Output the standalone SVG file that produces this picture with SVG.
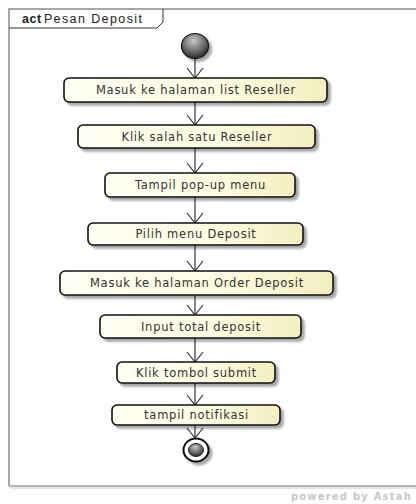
<svg xmlns="http://www.w3.org/2000/svg" width="416" height="504" viewBox="0 0 416 504">
<defs>
<linearGradient id="boxfill" x1="0" y1="0" x2="1" y2="0">
<stop offset="0" stop-color="#fffff4"/>
<stop offset="0.6" stop-color="#fdfbe0"/>
<stop offset="1" stop-color="#f3eec0"/>
</linearGradient>
<radialGradient id="ball" cx="0.45" cy="0.3" r="0.7">
<stop offset="0" stop-color="#c8c8c8"/>
<stop offset="0.6" stop-color="#6a6a6a"/>
<stop offset="1" stop-color="#2a2a2a"/>
</radialGradient>
<filter id="sh" x="-10%" y="-20%" width="130%" height="160%">
<feGaussianBlur in="SourceAlpha" stdDeviation="1.2"/>
<feOffset dx="2.5" dy="2.5" result="b"/>
<feComponentTransfer><feFuncA type="linear" slope="0.35"/></feComponentTransfer>
<feMerge><feMergeNode/><feMergeNode in="SourceGraphic"/></feMerge>
</filter>
</defs>
<style>
.box{fill:url(#boxfill);stroke:#111;stroke-width:1.6;filter:url(#sh)}
.lbl{font-family:"DejaVu Sans",sans-serif;font-size:11.5px;letter-spacing:0.75px;fill:#333;text-anchor:middle}
.edge{stroke:#333;stroke-width:1.2;fill:none}
.head{stroke:#333;stroke-width:1.2;fill:none}
</style>
<rect x="0" y="0" width="416" height="504" fill="#ffffff"/>
<g id="frame">
<path d="M9 486 V9 H420" fill="none" stroke="#8a8a8a" stroke-width="1.5"/>
<path d="M9 486 H420" fill="none" stroke="#9a9a9a" stroke-width="1.5"/>
<path d="M10 488 H420" fill="none" stroke="#e4e4e4" stroke-width="2"/>
<path d="M9 28 H157 L163 22 V9" fill="none" stroke="#333" stroke-width="1"/>
<text x="22" y="23" font-family="'Liberation Sans',Arial,sans-serif" font-size="12.5" letter-spacing="1.4" fill="#222"><tspan font-weight="bold" letter-spacing="0.6">act</tspan><tspan dx="2">Pesan Deposit</tspan></text>
</g>
<g id="connectors">
<path class="edge" d="M195 59 V78"/>
<path class="head" d="M187 68 L195 78 L203 68"/>
<path class="edge" d="M195 102 V125"/>
<path class="head" d="M187 115 L195 125 L203 115"/>
<path class="edge" d="M195 148 V173"/>
<path class="head" d="M187 163 L195 173 L203 163"/>
<path class="edge" d="M195 197 V223"/>
<path class="head" d="M187 213 L195 223 L203 213"/>
<path class="edge" d="M195 245 V271"/>
<path class="head" d="M187 261 L195 271 L203 261"/>
<path class="edge" d="M195 295 V315"/>
<path class="head" d="M187 305 L195 315 L203 305"/>
<path class="edge" d="M195 338 V362"/>
<path class="head" d="M187 352 L195 362 L203 352"/>
<path class="edge" d="M195 383 V405"/>
<path class="head" d="M187 395 L195 405 L203 395"/>
<path class="edge" d="M195 425 V437"/>
<path class="head" d="M187 428 L195 438 L203 428"/>
</g>
<g id="start">
<ellipse cx="195" cy="46" rx="13.5" ry="12.5" fill="url(#ball)" stroke="#111" stroke-width="1.2" filter="url(#sh)"/>
</g>
<g id="n1"><rect class="box" x="64" y="78" width="263" height="24" rx="5"/><text class="lbl" x="196" y="94">Masuk ke halaman list Reseller</text></g>
<g id="n2"><rect class="box" x="78" y="125" width="237" height="23" rx="5"/><text class="lbl" x="197" y="140.5">Klik salah satu Reseller</text></g>
<g id="n3"><rect class="box" x="105" y="173" width="190" height="24" rx="5"/><text class="lbl" x="200.5" y="189">Tampil pop-up menu</text></g>
<g id="n4"><rect class="box" x="88" y="223" width="215" height="22" rx="5"/><text class="lbl" x="196" y="238">Pilih menu Deposit</text></g>
<g id="n5"><rect class="box" x="60" y="271" width="273" height="24" rx="5"/><text class="lbl" x="197" y="287">Masuk ke halaman Order Deposit</text></g>
<g id="n6"><rect class="box" x="100" y="315" width="201" height="23" rx="5"/><text class="lbl" x="201" y="330.5">Input total deposit</text></g>
<g id="n7"><rect class="box" x="117" y="362" width="158" height="21" rx="5"/><text class="lbl" x="196.5" y="376.5">Klik tombol submit</text></g>
<g id="n8"><rect class="box" x="112" y="405" width="168" height="20" rx="5"/><text class="lbl" x="196.5" y="419">tampil notifikasi</text></g>
<g id="end">
<ellipse cx="196" cy="450" rx="12.5" ry="11.5" fill="#ffffff" stroke="#111" stroke-width="2" filter="url(#sh)"/>
<ellipse cx="196" cy="450" rx="7.5" ry="6.5" fill="url(#ball)" stroke="#222" stroke-width="1"/>
</g>
<text x="412" y="500" text-anchor="end" font-family="'DejaVu Sans',sans-serif" font-size="10" font-weight="bold" letter-spacing="1.2" fill="#c8c8c8">powered by Astah</text>
</svg>
